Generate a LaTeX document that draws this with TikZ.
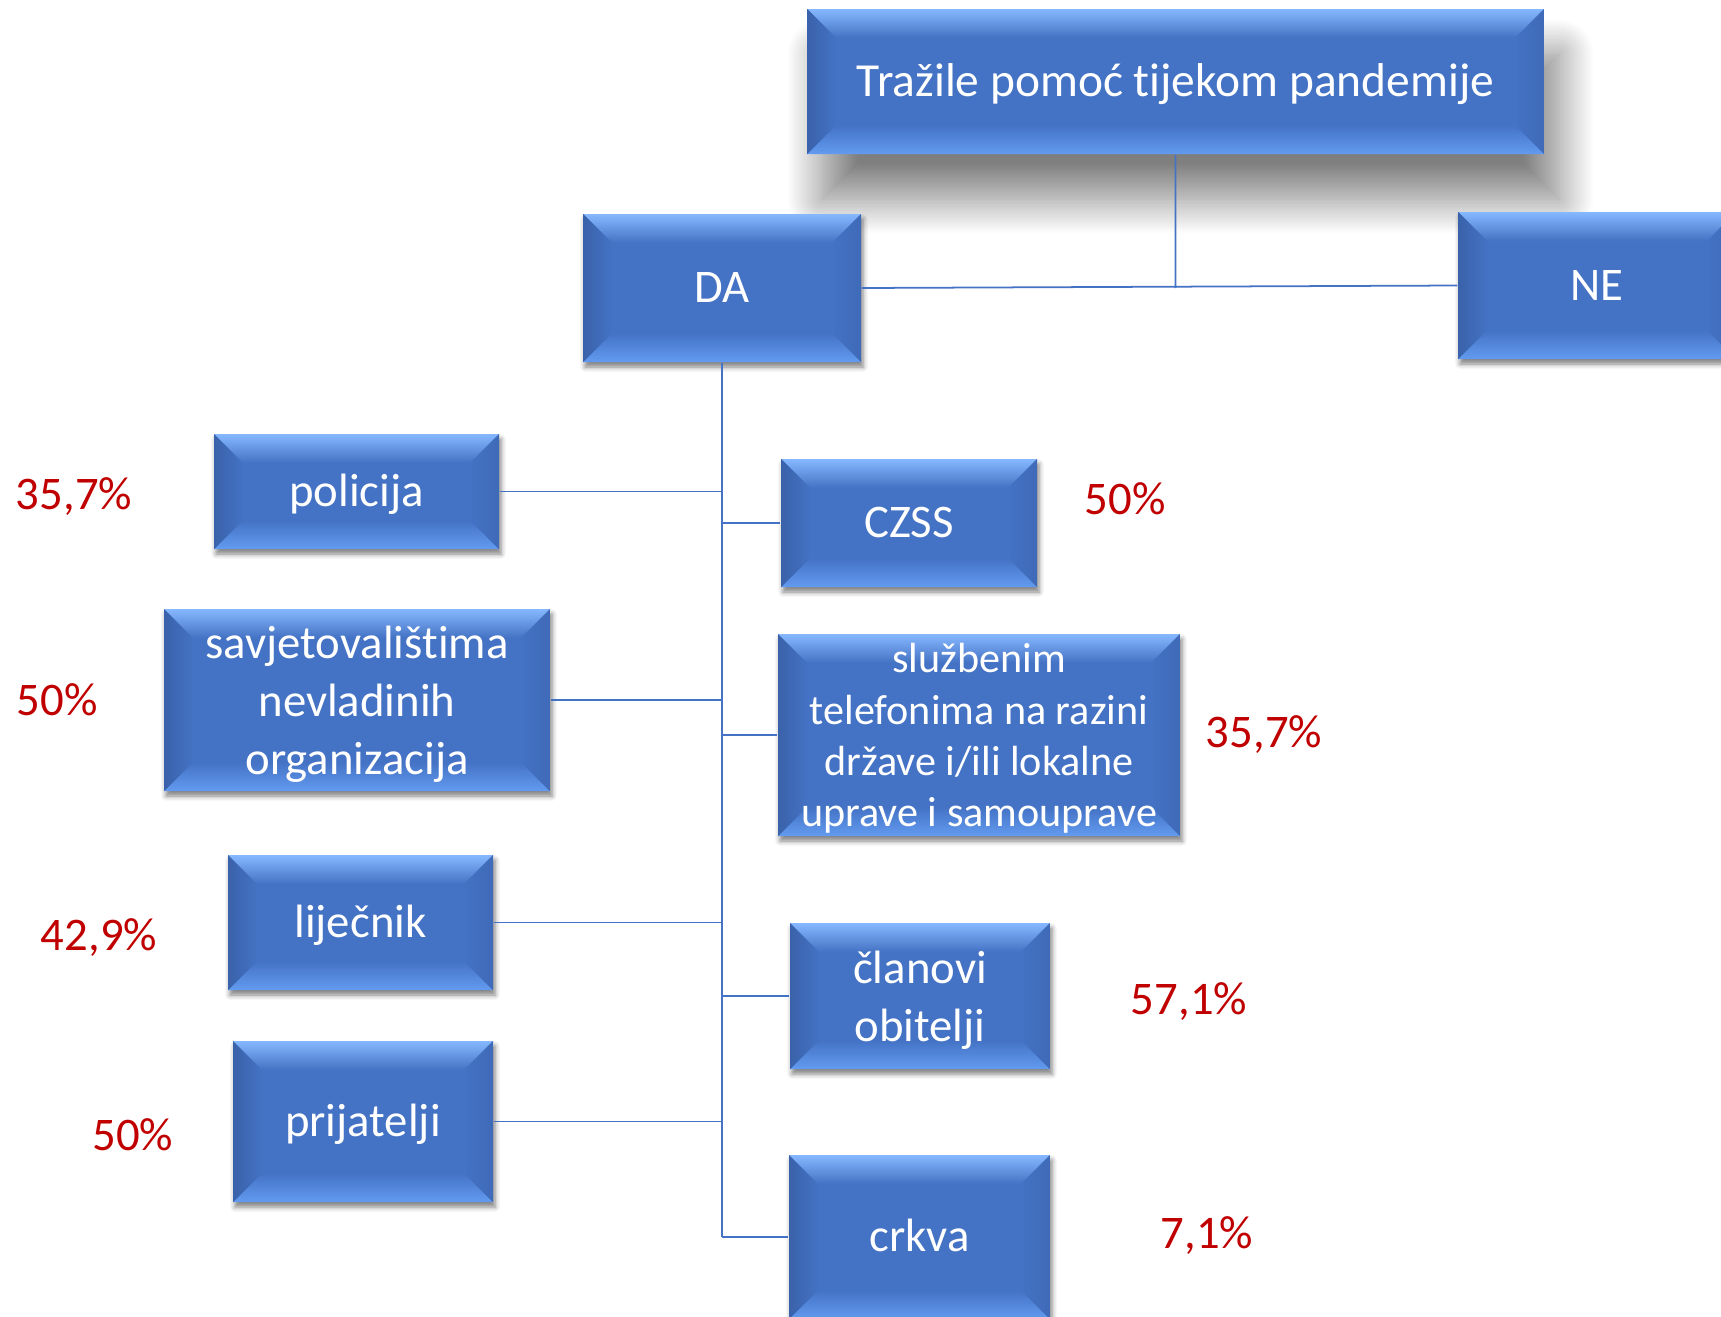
\documentclass[tikz,border=0pt]{standalone}
\usepackage{fontspec}
\setmainfont{Carlito}[Ligatures=NoCommon]
\usetikzlibrary{calc,shadows.blur}
\definecolor{boxblue}{HTML}{4472C4}
\definecolor{bevtop}{HTML}{86B8FF}
\definecolor{bevbot}{HTML}{629BF0}
\definecolor{bevleft}{HTML}{3A62AA}
\definecolor{bevright}{HTML}{3F6AB8}
\definecolor{pctred}{HTML}{C00000}
\newcommand{\bev}{0.29}
\newcommand{\lift}{\rule{0pt}{1.0em}}
\tikzset{
    bevelbox/.style={rectangle, fill=boxblue, text=white, align=center, inner sep=0pt,
        font=\fontsize{13.3}{16.4}\selectfont,
        execute at begin node={\rule{0pt}{0.93em}},
        execute at end node={\rule[-0.3em]{0pt}{0.3em}},
        path picture={
            \coordinate (bl) at (path picture bounding box.south west);
            \coordinate (tr) at (path picture bounding box.north east);
            \shade[top color=bevtop, bottom color=boxblue] (bl|-tr) -- (tr) -- ($(tr)+(-\bev,-\bev)$) -- ($(bl|-tr)+(\bev,-\bev)$) -- cycle;
            \shade[top color=boxblue, bottom color=bevbot] (bl) -- (bl-|tr) -- ($(bl-|tr)+(-\bev,\bev)$) -- ($(bl)+(\bev,\bev)$) -- cycle;
            \shade[left color=bevleft, right color=boxblue] (bl) -- ($(bl)+(\bev,\bev)$) -- ($(bl|-tr)+(\bev,-\bev)$) -- (bl|-tr) -- cycle;
            \shade[left color=boxblue, right color=bevright] (tr) -- ($(tr)+(-\bev,-\bev)$) -- ($(bl-|tr)+(-\bev,\bev)$) -- (bl-|tr) -- cycle;
        }},
    lowshadow/.style={blur shadow={shadow xshift=0.02cm, shadow yshift=-0.05cm, shadow blur radius=0.05cm, shadow opacity=50}},
    topshadow/.style={blur shadow={shadow xshift=0.15cm, shadow yshift=-0.45cm, shadow blur radius=0.35cm, shadow blur steps=25, shadow opacity=50}},
    pct/.style={text=pctred, font=\fontsize{13.3}{16}\selectfont},
    conn/.style={draw=boxblue, line width=0.5pt},
}
\begin{document}
\begin{tikzpicture}
        \useasboundingbox (0,0) rectangle (17.21,-13.16);
        \clip (0,0) rectangle (17.21,-13.16);
        \node[bevelbox,topshadow,minimum width=7.37cm,minimum height=1.45cm,font=\fontsize{13.5}{16.4}\selectfont] (top) at (11.755,-0.815) {Tražile pomoć tijekom pandemije};
        \node[bevelbox,lowshadow,minimum width=2.78cm,minimum height=1.48cm] (da) at (7.22,-2.88) {DA};
        \node[bevelbox,lowshadow,minimum width=2.78cm,minimum height=1.47cm] (ne) at (15.97,-2.855) {NE};
        \node[bevelbox,lowshadow,minimum width=2.85cm,minimum height=1.15cm] (policija) at (3.565,-4.915) {policija};
        \node[bevelbox,lowshadow,minimum width=3.86cm,minimum height=1.82cm] (savjet) at (3.57,-7.0) {\lift savjetovalištima\\nevladinih\\organizacija};
        \node[bevelbox,lowshadow,minimum width=2.65cm,minimum height=1.35cm] (lijecnik) at (3.605,-9.225) {liječnik};
        \node[bevelbox,lowshadow,minimum width=2.6cm,minimum height=1.61cm] (prijatelji) at (3.63,-11.215) {prijatelji};
        \node[bevelbox,lowshadow,minimum width=2.56cm,minimum height=1.28cm] (czss) at (9.09,-5.23) {CZSS};
        \node[bevelbox,lowshadow,minimum width=4.02cm,minimum height=2.02cm,inner ysep=-0.1cm,font=\fontsize{12}{14.6}\selectfont] (telefon) at (9.79,-7.35) {\lift službenim\\telefonima na razini\\države i/ili lokalne\\uprave i samouprave};
        \node[bevelbox,lowshadow,minimum width=2.6cm,minimum height=1.46cm] (obitelj) at (9.2,-9.96) {\lift članovi\\obitelji};
        \node[bevelbox,lowshadow,minimum width=2.61cm,minimum height=1.64cm] (crkva) at (9.195,-12.37) {crkva};
        \node[pct] (p1) at (0.74,-4.97) {35,7\%};
        \node[pct] (p2) at (0.57,-7.0) {50\%};
        \node[pct] (p3) at (0.99,-9.38) {42,9\%};
        \node[pct] (p4) at (1.33,-11.35) {50\%};
        \node[pct] (p5) at (11.25,-4.99) {50\%};
        \node[pct] (p6) at (12.64,-7.35) {35,7\%};
        \node[pct] (p7) at (11.89,-10.02) {57,1\%};
        \node[pct] (p8) at (12.07,-12.36) {7,1\%};
        \coordinate (split) at (top.south |- da.east);
        \coordinate (trunk) at (da.south |- crkva.west);
        \draw[conn] (top.south) -- (split) (da.east) -- (ne.west);
        \draw[conn] (da.south) -- (trunk);
        \draw[conn] (policija.east) -- (policija.east -| da.south) (savjet.east) -- (savjet.east -| da.south) (lijecnik.east) -- (lijecnik.east -| da.south) (prijatelji.east) -- (prijatelji.east -| da.south);
        \draw[conn] (czss.west) -- (czss.west -| da.south) (telefon.west) -- (telefon.west -| da.south) (obitelj.west) -- (obitelj.west -| da.south) (crkva.west) -- (trunk);
    \end{tikzpicture}
\end{document}
